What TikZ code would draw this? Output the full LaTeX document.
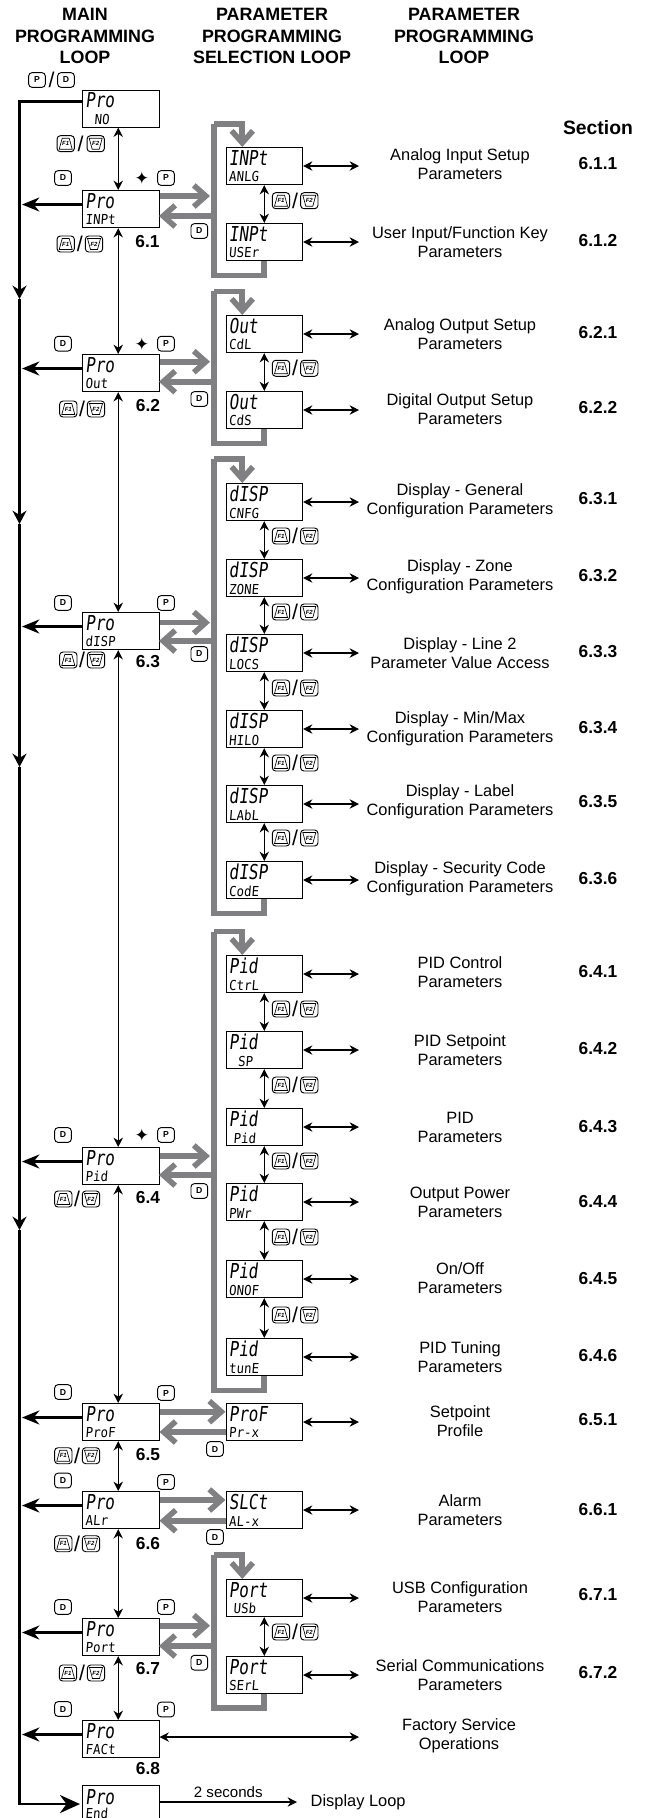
\documentclass[tikz,border=0pt]{standalone}
\usepackage{fontspec}
\setmainfont{Liberation Sans}
\newfontfamily\lcdtop[FakeStretch=.78,FakeSlant=.12]{DejaVu Sans Mono}
\newfontfamily\lcdlow[FakeStretch=.9,FakeSlant=.08]{DejaVu Sans Mono}
\newfontfamily\symfont{DejaVu Sans}
\usetikzlibrary{arrows.meta}
\definecolor{flowgray}{RGB}{128,128,130}
\tikzstyle{disp} = [draw=black, line width=.75pt, anchor=north west, minimum width=57.4pt, minimum height=27.8pt, inner sep=0pt, align=left, text width=53pt, font=\fontsize{10}{12.5}\selectfont]
\tikzstyle{keybtn} = [draw=black, line width=.7pt, rounded corners=2.5pt, minimum width=12.5pt, minimum height=11pt, inner sep=0pt, font=\bfseries\fontsize{6.5}{7}\selectfont]
\tikzstyle{fbtn} = [keybtn, minimum width=13pt, minimum height=12pt, font=\bfseries\itshape\fontsize{4.5}{5}\selectfont]
\tikzstyle{heading} = [align=center, font=\bfseries\fontsize{13.4}{16.3}\selectfont]
\tikzstyle{params} = [align=center, font=\fontsize{12.3}{14.3}\selectfont]
\tikzstyle{secnum} = [font=\bfseries\fontsize{13}{15}\selectfont]
\tikzstyle{thinboth} = [line width=.95pt, {Stealth[length=7pt,width=7pt]}-{Stealth[length=7pt,width=7pt]}]
\tikzstyle{thickflow} = [line width=2pt, -{Stealth[length=13pt,width=10.5pt]}]
\tikzstyle{grayflow} = [draw=flowgray, line width=4.2pt, line join=miter]
\tikzstyle{grayhead} = [grayflow, -{Straight Barb[length=9pt,width=16pt,line width=4.2pt]}]
\newcommand{\lcd}[2]{{\lcdtop\fontsize{15.4}{15}\selectfont #1}\\{\lcdlow\fontsize{10.3}{12}\selectfont #2}}
\newcommand{\mainrow}[3]{\node [disp] (#1) at (82,#2) {\lcd{Pro}{#3}};
	\draw [thickflow] (#1.west |- 0,#2+14.5) -- (22,#2+14.5);}
\newcommand{\subrow}[7]{\node [disp] (#1) at (225.5,#2) {\lcd{#3}{#4}};
	\node [params] (#1lbl) at (460,#5) {#6};
	\coordinate (#1end) at (359,#2+19);
	\draw [thinboth] (#1.east |- #1end) -- (#1end);
	\node [secnum] (#1sec) at (598,#7) {\csname sec#1\endcsname};}
\newcommand{\dk}[3]{\node [keybtn] (#1) at (#2,#3) {D};}
\newcommand{\pk}[3]{\node [keybtn] (#1) at (#2,#3) {P};}
\newcommand{\fkeys}[4]{\node [fbtn] (#1a) at (#2,#4) {F1};
	\node [fbtn] (#1b) at (#3,#4) {F2};
	\node [font=\fontsize{16}{16}\selectfont] (#1s) at ({(#2+#3)/2},#4) {/};
	\draw [line width=.5pt] ([shift={(-3.5,-5.5)}]#1a.center) -- ([shift={(3.5,-5.5)}]#1a.center) -- ([shift={(6.5,5.5)}]#1a.center) -- ([shift={(-6.5,5.5)}]#1a.center) -- cycle;
	\draw [line width=.5pt] ([shift={(-6.5,-5.5)}]#1b.center) -- ([shift={(6.5,-5.5)}]#1b.center) -- ([shift={(3.5,5.5)}]#1b.center) -- ([shift={(-3.5,5.5)}]#1b.center) -- cycle;}
\newcommand{\grayloop}[4]{\coordinate (#1bus) at (214,#3);
	\draw [grayflow] (#2.south) |- (#1bus |- 0,#4) -- (#1bus);
	\draw [grayhead] (214,#3) -| ([xshift=-16.5pt]#1.north);}
\newcommand{\busflow}[4]{\draw [grayhead] (#1.east |- 0,#3) -- (210,#3);
	\draw [grayhead] (#2bus |- 0,#4) -- (159,#4);}
\newcommand{\link}[2]{\draw [thinboth] ([xshift=-1.9pt]#1.south) -- ([xshift=-1.9pt]#2.north);}
\newcommand{\sublink}[2]{\draw [thinboth] (#1.south) -- (#2.north);}
\begin{document}
\begin{tikzpicture}[x=.75pt,y=-.75pt]
	\useasboundingbox (0,0) rectangle (644,1818);
	\node [heading] (hmain) at (85,36) {MAIN\\PROGRAMMING\\LOOP};
	\node [heading] (hsel) at (272,36) {PARAMETER\\PROGRAMMING\\SELECTION LOOP};
	\node [heading] (hpar) at (464,36) {PARAMETER\\PROGRAMMING\\LOOP};
	\node [font=\bfseries\fontsize{14.5}{16}\selectfont] (hsec) at (598,128) {Section};

	\node [disp] (mno) at (82,89.5) {\lcd{Pro}{~~NO}};
	\mainrow{minpt}{190}{INPt}
	\mainrow{mout}{354}{Out}
	\mainrow{mdisp}{612}{dISP}
	\mainrow{mpid}{1147}{Pid}
	\mainrow{mprof}{1403}{ProF}
	\mainrow{malr}{1491}{ALr}
	\mainrow{mport}{1618}{Port}
	\mainrow{mfact}{1720}{FACt}
	\node [disp] (mend) at (82,1785) {{\lcdtop\fontsize{15.4}{15}\selectfont Pro}\\[-2.5pt]{\lcdlow\fontsize{10.3}{12}\selectfont End}};

	\link{mno}{minpt}
	\link{minpt}{mout}
	\link{mout}{mdisp}
	\link{mdisp}{mpid}
	\link{mpid}{mprof}
	\link{mprof}{malr}
	\link{malr}{mport}
	\link{mport}{mfact}

	\coordinate (dn1) at (19.5,299);
	\coordinate (dn2) at (19.5,524);
	\coordinate (dn3) at (19.5,767);
	\coordinate (dn4) at (19.5,1230);
	\draw [line width=2pt, -{Stealth[length=10pt,width=10.5pt]}] (mno.west |- 0,101.5) -| (dn1);
	\draw [line width=2pt, -{Stealth[length=10pt,width=10.5pt]}] (dn1) -- (dn2);
	\draw [line width=2pt, -{Stealth[length=10pt,width=10.5pt]}] (dn2) -- (dn3);
	\draw [line width=2pt, -{Stealth[length=10pt,width=10.5pt]}] (dn3) -- (dn4);
	\draw [line width=2pt, -{Stealth[length=15pt,width=13.5pt]}, shorten >=1.5pt] (dn4) |- (mend.west);

	\def\secranlg{6.1.1}\def\secruser{6.1.2}\def\secrcdl{6.2.1}\def\secrcds{6.2.2}
	\def\secrcnfg{6.3.1}\def\secrzone{6.3.2}\def\secrlocs{6.3.3}\def\secrhilo{6.3.4}\def\secrlabl{6.3.5}\def\secrcode{6.3.6}
	\def\secrctrl{6.4.1}\def\secrsp{6.4.2}\def\secrpidp{6.4.3}\def\secrpwr{6.4.4}\def\secronof{6.4.5}\def\secrtune{6.4.6}
	\def\secrprx{6.5.1}\def\secralx{6.6.1}\def\secrusb{6.7.1}\def\secrserl{6.7.2}

	\subrow{ranlg}{147}{INPt}{ANLG}{164}{Analog Input Setup\\Parameters}{164}
	\subrow{ruser}{223}{INPt}{USEr}{242}{User Input/Function Key\\Parameters}{241}
	\subrow{rcdl}{315}{Out}{CdL}{334.5}{Analog Output Setup\\Parameters}{333}
	\subrow{rcds}{391}{Out}{CdS}{409}{Digital Output Setup\\Parameters}{408}
	\subrow{rcnfg}{483}{dISP}{CNFG}{501}{Display - General\\Configuration Parameters}{499}
	\subrow{rzone}{559}{dISP}{ZONE}{577}{Display - Zone\\Configuration Parameters}{576}
	\subrow{rlocs}{634}{dISP}{LOCS}{653}{Display - Line 2\\Parameter Value Access}{652}
	\subrow{rhilo}{710}{dISP}{HILO}{729}{Display - Min/Max\\Configuration Parameters}{728}
	\subrow{rlabl}{785}{dISP}{LAbL}{802}{Display - Label\\Configuration Parameters}{802}
	\subrow{rcode}{861}{dISP}{CodE}{879}{Display - Security Code\\Configuration Parameters}{879}
	\subrow{rctrl}{955}{Pid}{CtrL}{972}{PID Control\\Parameters}{972}
	\subrow{rsp}{1031}{Pid}{~~SP}{1050}{PID Setpoint\\Parameters}{1049}
	\subrow{rpidp}{1108}{Pid}{~Pid}{1127}{PID\\Parameters}{1127}
	\subrow{rpwr}{1183}{Pid}{PWr}{1202}{Output Power\\Parameters}{1202}
	\subrow{ronof}{1260}{Pid}{ONOF}{1278}{On/Off\\Parameters}{1279}
	\subrow{rtune}{1338}{Pid}{tunE}{1357}{PID Tuning\\Parameters}{1356}
	\subrow{rprx}{1403}{ProF}{Pr-x}{1421}{Setpoint\\Profile}{1420}
	\subrow{ralx}{1491}{SLCt}{AL-x}{1510}{Alarm\\Parameters}{1510}
	\subrow{rusb}{1579}{Port}{~USb}{1597}{USB Configuration\\Parameters}{1595}
	\subrow{rserl}{1656}{Port}{SErL}{1675}{Serial Communications\\Parameters}{1673}

	\sublink{ranlg}{ruser}
	\sublink{rcdl}{rcds}
	\sublink{rcnfg}{rzone}
	\sublink{rzone}{rlocs}
	\sublink{rlocs}{rhilo}
	\sublink{rhilo}{rlabl}
	\sublink{rlabl}{rcode}
	\sublink{rctrl}{rsp}
	\sublink{rsp}{rpidp}
	\sublink{rpidp}{rpwr}
	\sublink{rpwr}{ronof}
	\sublink{ronof}{rtune}
	\sublink{rusb}{rserl}

	\grayloop{ranlg}{ruser}{124}{275.5}
	\grayloop{rcdl}{rcds}{291.3}{443.5}
	\grayloop{rcnfg}{rcode}{459}{913.5}
	\grayloop{rctrl}{rtune}{931.5}{1390.5}
	\grayloop{rusb}{rserl}{1555}{1708}
	\busflow{minpt}{ranlg}{196}{216}
	\busflow{mout}{rcdl}{361.7}{381.7}
	\busflow{mdisp}{rcnfg}{622.6}{641}
	\busflow{mpid}{rctrl}{1156}{1175}
	\busflow{mport}{rusb}{1625.7}{1646}
	\draw [grayhead] (mprof.east |- 0,1411.7) -- (rprx.west |- 0,1411.7);
	\draw [grayhead] (rprx.west |- 0,1432) -- (mprof.east |- 0,1432);
	\draw [grayhead] (malr.east |- 0,1500) -- (ralx.west |- 0,1500);
	\draw [grayhead] (ralx.west |- 0,1520.7) -- (malr.east |- 0,1520.7);

	\node [params] (lfact) at (459,1736) {Factory Service\\Operations};
	\coordinate (factend) at (359,1737);
	\draw [thinboth] (mfact.east |- factend) -- (factend);
	\node [font=\fontsize{12.3}{14}\selectfont, anchor=west] (ldisp) at (306,1802) {Display Loop};
	\coordinate (endtip) at (297,1802);
	\draw [line width=.95pt, -{Stealth[length=7pt,width=7pt]}] (mend.east |- endtip) -- (endtip) node [midway, above, font=\fontsize{11.3}{13}\selectfont, inner sep=3pt] (ltwo) {2 seconds};

	\pk{ptop}{37}{80}
	\node [font=\fontsize{16}{16}\selectfont] (topslash) at (51.5,80) {/};
	\dk{dtop}{66}{80}
	\fkeys{fno}{65.7}{95.7}{143.7}

	\dk{d1}{63}{178}
	\node [font=\symfont\fontsize{13}{13}\selectfont] (plus1) at (142,178) {✦};
	\pk{p1}{166}{178}
	\fkeys{f1}{65.7}{94}{244}
	\node [secnum] (s1) at (147.5,241.7) {6.1};
	\dk{b1}{199.3}{231}
	\fkeys{g1}{281}{309.3}{200.7}

	\dk{d2}{63}{343.7}
	\node [font=\symfont\fontsize{13}{13}\selectfont] (plus2) at (142,343.7) {✦};
	\pk{p2}{166}{343.7}
	\fkeys{f2}{68.3}{96}{409}
	\node [secnum] (s2) at (148,406) {6.2};
	\dk{b2}{199.3}{399}
	\fkeys{g2}{281}{309.3}{368.3}

	\dk{d3}{63}{603}
	\pk{p3}{166}{603}
	\fkeys{f3}{68.3}{96}{660}
	\node [secnum] (s3) at (148,662) {6.3};
	\dk{b3}{199.3}{654}
	\fkeys{g3}{281}{309.3}{536}
	\fkeys{g4}{281}{309.3}{612}
	\fkeys{g5}{281}{309.3}{688}
	\fkeys{g6}{281}{309.3}{763}
	\fkeys{g7}{281}{309.3}{838}

	\dk{d4}{63}{1135}
	\node [font=\symfont\fontsize{13}{13}\selectfont] (plus4) at (142,1135) {✦};
	\pk{p4}{166}{1135}
	\fkeys{f4}{63.3}{91}{1199}
	\node [secnum] (s4) at (148,1198) {6.4};
	\dk{b4}{199.3}{1191}
	\fkeys{g8}{281}{309.3}{1009}
	\fkeys{g9}{281}{309.3}{1085}
	\fkeys{g10}{281}{309.3}{1161}
	\fkeys{g11}{281}{309.3}{1237}
	\fkeys{g12}{281}{309.3}{1315}

	\dk{d5}{63}{1392}
	\pk{p5}{166}{1393}
	\fkeys{f5}{63.3}{91}{1455.7}
	\node [secnum] (s5) at (148,1455) {6.5};
	\dk{b5}{215}{1449}

	\dk{d6}{63}{1480.5}
	\pk{p6}{166}{1482}
	\fkeys{f6}{63.3}{91}{1543.7}
	\node [secnum] (s6) at (148,1544) {6.6};
	\dk{b6}{215}{1537}

	\dk{d7}{63}{1607}
	\pk{p7}{166}{1607}
	\fkeys{f7}{68}{96}{1673}
	\node [secnum] (s7) at (148,1669) {6.7};
	\dk{b7}{199.3}{1662.7}
	\fkeys{g13}{281}{309.3}{1632}

	\dk{d8}{63}{1709}
	\pk{p8}{166}{1709.5}
	\node [secnum] (s8) at (148,1768.7) {6.8};
\end{tikzpicture}
\end{document}
